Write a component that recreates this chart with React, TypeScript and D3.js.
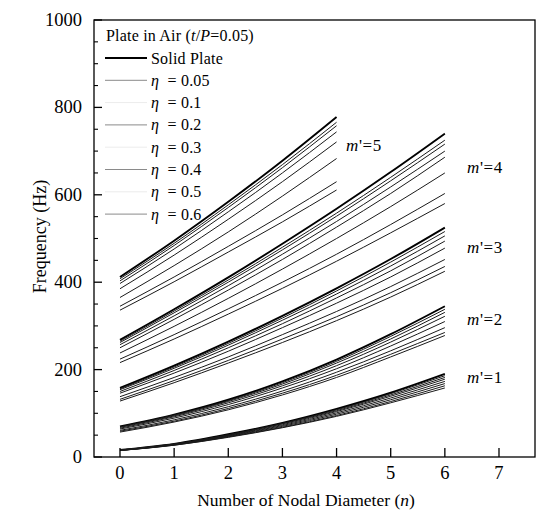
import React from "react";
import * as d3 from "d3";

const nodalN6 = [0, 1, 2, 3, 4, 5, 6];
const nodalN4 = [0, 1, 2, 3, 4];
const seriesNames = ["Solid Plate", "0.05", "0.1", "0.2", "0.3", "0.4", "0.5", "0.6"];
const xTicks = [0, 1, 2, 3, 4, 5, 6, 7];
const yTicks = [0, 200, 400, 600, 800, 1000];

// m'=1 (rows: Solid, η=0.05 ... 0.6)
const mode1 = [
  [16, 30, 52, 78, 110, 147, 190],
  [16, 30, 51, 77, 108, 145, 186],
  [16, 29, 50, 76, 106, 142, 182],
  [16, 29, 49, 74, 104, 139, 178],
  [15, 28, 48, 72, 101, 135, 173],
  [15, 28, 47, 70, 98, 131, 168],
  [15, 27, 46, 68, 95, 127, 163],
  [15, 27, 45, 67, 93, 124, 158],
];
const mode2 = [
  [70, 97, 131, 173, 223, 281, 345],
  [69, 96, 129, 170, 219, 276, 338],
  [68, 94, 127, 167, 215, 270, 331],
  [66, 92, 124, 163, 209, 263, 322],
  [64, 89, 120, 158, 202, 254, 310],
  [61, 85, 115, 151, 194, 243, 296],
  [59, 82, 111, 146, 187, 235, 285],
  [57, 80, 108, 142, 182, 229, 278],
];
const mode3 = [
  [158, 209, 264, 323, 386, 453, 525],
  [156, 206, 260, 318, 380, 446, 516],
  [154, 203, 256, 313, 373, 437, 506],
  [150, 198, 250, 305, 364, 426, 494],
  [146, 192, 242, 296, 352, 412, 478],
  [138, 182, 229, 280, 333, 390, 452],
  [132, 175, 221, 270, 321, 376, 436],
  [128, 170, 215, 262, 312, 366, 425],
];
const mode4 = [
  [268, 338, 411, 488, 568, 652, 740],
  [265, 334, 405, 480, 558, 640, 725],
  [262, 330, 400, 474, 551, 632, 716],
  [257, 323, 392, 464, 539, 618, 700],
  [250, 315, 382, 452, 526, 603, 686],
  [238, 299, 363, 430, 500, 573, 650],
  [224, 280, 339, 400, 464, 532, 603],
  [216, 270, 327, 386, 448, 513, 580],
];
const mode5 = [
  [412, 495, 584, 678, 778],
  [408, 489, 577, 669, 766],
  [403, 484, 571, 662, 758],
  [397, 476, 561, 650, 744],
  [385, 462, 544, 630, 721],
  [365, 438, 515, 597, 683],
  [345, 412, 482, 554, 630],
  [336, 401, 469, 538, 611],
];

const modeLabels = ["1", "2", "3", "4", "5"];

export default function App() {
  const W = 537;
  const H = 522;
  const left = 94, right = 535, top = 20, bottom = 457;
  const x = d3.scaleLinear().domain([-0.48, 7.665]).range([left, right]);
  const y = d3.scaleLinear().domain([0, 1000]).range([bottom, top]);
  const font = "'Liberation Serif', 'Times New Roman', serif";

  const line = d3
    .line<[number, number]>()
    .x((d) => x(d[0]))
    .y((d) => y(d[1]))
    .curve(d3.curveMonotoneX);

  const modes = [
    { rows: mode1, n: nodalN6 },
    { rows: mode2, n: nodalN6 },
    { rows: mode3, n: nodalN6 },
    { rows: mode4, n: nodalN6 },
    { rows: mode5, n: nodalN4 },
  ];

  const labelPos = [
    { x: 467, y: 378 },
    { x: 467, y: 320 },
    { x: 467, y: 248 },
    { x: 467, y: 168 },
    { x: 346, y: 146 },
  ];

  const minorY = d3.range(0, 1001, 50).filter((v) => v % 200 !== 0);

  const legendY0 = 58;
  const legendStep = 22.3;

  return (
    <svg
      width={W}
      height={H}
      style={{ position: "absolute", left: 0, top: 0, background: "#fff" }}
      fontFamily={font}
    >
      <rect x={0} y={0} width={W} height={H} fill="#fff" />
      {/* series */}
      {modes.map((m, mi) =>
        m.rows.map((row, ri) => (
          <path
            key={`${mi}-${ri}`}
            d={line(m.n.map((nv, i) => [nv, row[i]] as [number, number])) || ""}
            fill="none"
            stroke={ri === 0 ? "#000" : "#1a1a1a"}
            strokeWidth={ri === 0 ? 1.9 : 1.0}
          />
        ))
      )}
      {/* frame */}
      <rect x={left} y={top} width={right - left} height={bottom - top} fill="none" stroke="#000" strokeWidth={1.3} />
      {/* y ticks */}
      {yTicks.map((t) => (
        <g key={`yt${t}`}>
          <line x1={left} x2={left + 8} y1={y(t)} y2={y(t)} stroke="#000" strokeWidth={1.3} />
          <text x={82} y={y(t) + 6} textAnchor="end" fontSize={18.5}>
            {t}
          </text>
        </g>
      ))}
      {minorY.map((t) => (
        <line key={`ym${t}`} x1={left} x2={left + 4} y1={y(t)} y2={y(t)} stroke="#000" strokeWidth={1.1} />
      ))}
      {/* x ticks */}
      {xTicks.map((t) => (
        <g key={`xt${t}`}>
          <line x1={x(t)} x2={x(t)} y1={bottom} y2={bottom - 9} stroke="#000" strokeWidth={1.3} />
          <text x={x(t)} y={479} textAnchor="middle" fontSize={18.5}>
            {t}
          </text>
        </g>
      ))}
      {/* axis titles */}
      <text x={306} y={506} textAnchor="middle" fontSize={17.5}>
        Number of Nodal Diameter (<tspan fontStyle="italic">n</tspan>)
      </text>
      <text
        transform={`translate(46, ${(top + bottom) / 2 - 2}) rotate(-90)`}
        textAnchor="middle"
        fontSize={18}
      >
        Frequency (Hz)
      </text>
      {/* mode labels */}
      {modeLabels.map((lab, i) => (
        <text key={`ml${i}`} x={labelPos[i].x} y={labelPos[i].y + 5} fontSize={17} letterSpacing={0.6}>
          <tspan fontStyle="italic">m</tspan>'={lab}
        </text>
      ))}
      {/* legend */}
      <text x={106} y={41} fontSize={16} letterSpacing={0.2}>
        Plate in Air (<tspan fontStyle="italic">t</tspan>/<tspan fontStyle="italic">P</tspan>=0.05)
      </text>
      {seriesNames.map((name, i) => {
        const ly = legendY0 + i * legendStep;
        const faint = i === 2 || i === 4 || i === 6;
        return (
          <g key={`lg${i}`}>
            <line
              x1={105}
              x2={147}
              y1={ly}
              y2={ly}
              stroke={i === 0 ? "#000" : faint ? "#ececec" : "#8a8a8a"}
              strokeWidth={i === 0 ? 1.9 : 1.0}
            />
            <text x={151} y={ly + 5.5} fontSize={16} letterSpacing={0.2}>
              {i === 0 ? (
                name
              ) : (
                <>
                  <tspan fontStyle="italic">η</tspan>
                  {"\u00A0\u00A0= " + name}
                </>
              )}
            </text>
          </g>
        );
      })}
    </svg>
  );
}
